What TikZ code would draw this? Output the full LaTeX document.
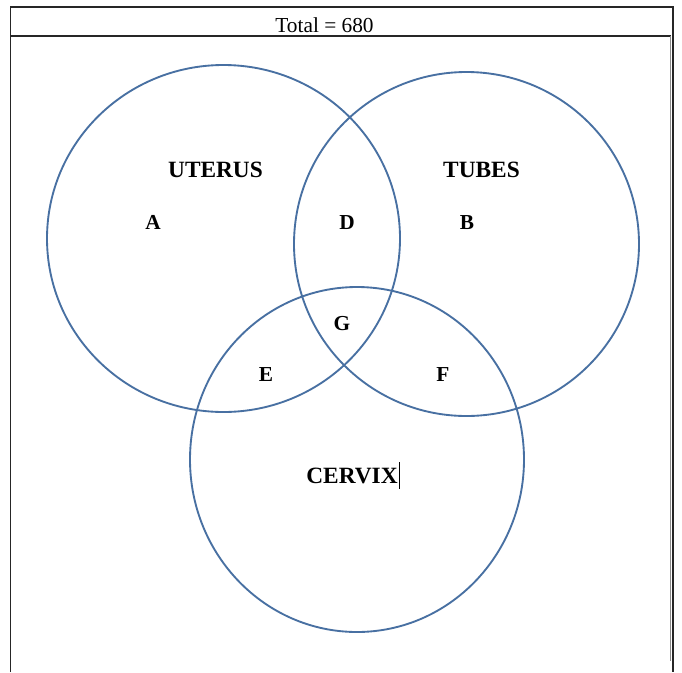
\documentclass[tikz,border=0pt]{standalone}
\usepackage{fontspec}
\setmainfont{Liberation Serif}
\begin{document}
\begin{tikzpicture}[x=0.75pt,y=-0.75pt,
  frameline/.style={draw=black!85,line width=1pt},
  setring/.style={draw=ringblue,line width=1.4pt},
  setname/.style={font=\fontsize{17.5pt}{20pt}\selectfont\bfseries,inner sep=0pt,anchor=base},
  region/.style={font=\fontsize{16pt}{18pt}\selectfont\bfseries,inner sep=0pt,anchor=base}]
\definecolor{ringblue}{RGB}{72,112,162}
\useasboundingbox (0,0) rectangle (682,672);
\fill[white] (0,0) rectangle (682,672);

% table frame with header row
\coordinate (tl) at (10.5,7);
\coordinate (tr) at (673,7);
\coordinate (bl) at (10.5,672);
\coordinate (br) at (673,672);
\coordinate (hl) at (10.5,36);
\coordinate (hr) at (671,36);
\coordinate (ir) at (670.5,36);
\coordinate (irb) at (670.5,661);
\draw[frameline] (bl) -- (tl) -- (tr) -- (br);
\draw[frameline] (hl) -- (hr);
\draw[black!45,line width=0.8pt] (ir) -- (irb);
\node[font=\fontsize{16pt}{18pt}\selectfont,inner sep=0pt,anchor=base] (total) at (324.5,32) {Total = 680};

% the three sets
\draw[setring] (223.5,238.5) ellipse [x radius=176.5, y radius=173.5];
\draw[setring] (466.5,244) ellipse [x radius=172.5, y radius=172];
\draw[setring] (357,459.5) ellipse [x radius=167, y radius=172.5];

% set names
\node[setname] (uterus) at (215.5,177) {UTERUS};
\node[setname] (tubes) at (481.5,177) {TUBES};
\node[setname] (cervix) at (352,483) {CERVIX};
\coordinate (cur1) at (399.5,462);
\coordinate (cur2) at (399.5,489);
\draw[black,line width=0.7pt] (cur1) -- (cur2);

% regions
\node[region] (a) at (153,229) {A};
\node[region] (d) at (347,229) {D};
\node[region] (b) at (467,229) {B};
\node[region] (g) at (342,330) {G};
\node[region] (e) at (266,381) {E};
\node[region] (f) at (443,381) {F};
\end{tikzpicture}
\end{document}
